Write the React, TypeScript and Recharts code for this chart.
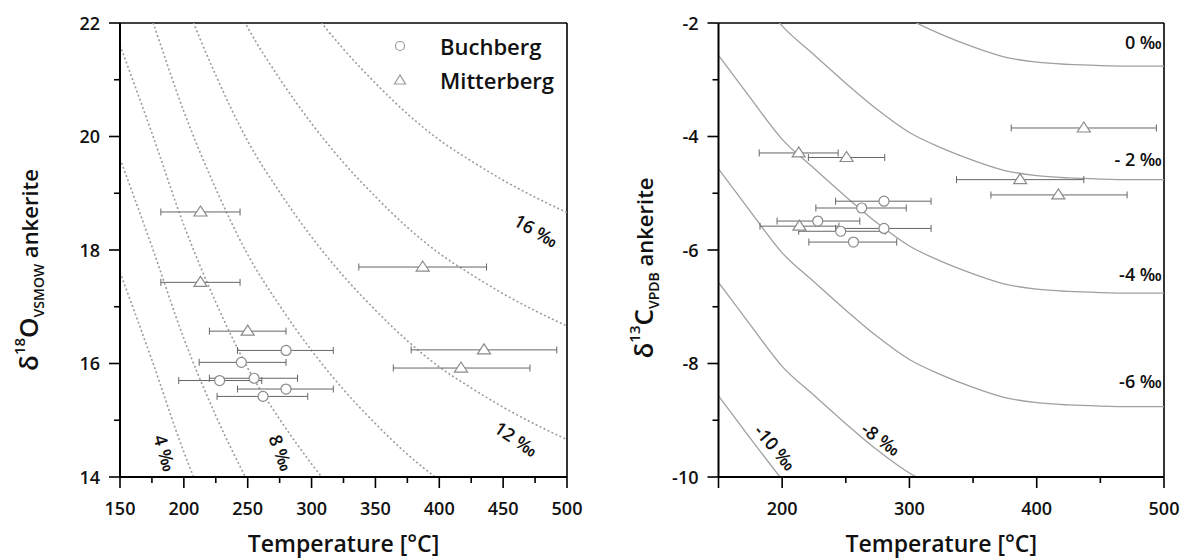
import {
  ComposedChart, Line, Scatter, ErrorBar, XAxis, YAxis,
  ReferenceLine, ReferenceDot, Legend
} from 'recharts'

const FONT = '"Open Sans", "Noto Sans", sans-serif'
const INK = '#111'

// temperature grid shared by every isopleth curve
const curveT = [150, 175, 200, 225, 250, 275, 300, 325, 350, 375, 400, 425, 450, 475, 500]

// δ18O ankerite isopleths, one per fluid δ18O (‰ VSMOW)
const o4 = [17.61, 16.06, 14.44, 13.08, null, null, null, null, null, null, null, null, null, null, null]
const o6 = [19.61, 18.06, 16.44, 15.08, 13.92, null, null, null, null, null, null, null, null, null, null]
const o8 = [21.61, 20.06, 18.44, 17.08, 15.92, 15.02, 14.23, 13.54, null, null, null, null, null, null, null]
const o10 = [23.61, 22.06, 20.44, 19.08, 17.92, 17.02, 16.23, 15.54, 14.94, 14.40, 13.94, null, null, null, null]
const o12 = [null, 24.06, 22.44, 21.08, 19.92, 19.02, 18.23, 17.54, 16.94, 16.40, 15.94, 15.57, 15.23, 14.93, 14.66]
const o14 = [null, null, null, 23.08, 21.92, 21.02, 20.23, 19.54, 18.94, 18.40, 17.94, 17.57, 17.23, 16.93, 16.66]
const o16 = [null, null, null, null, null, 23.02, 22.23, 21.54, 20.94, 20.40, 19.94, 19.57, 19.23, 18.93, 18.66]

// δ13C ankerite isopleths, one per fluid δ13C (‰ VPDB)
const c0 = [null, null, null, null, null, -1.53, -1.93, -2.20, -2.42, -2.60, -2.69, -2.73, -2.75, -2.76, -2.76]
const c2 = [null, -1.32, -2.05, -2.56, -3.06, -3.53, -3.93, -4.20, -4.42, -4.60, -4.69, -4.73, -4.75, -4.76, -4.76]
const c4 = [-2.57, -3.32, -4.05, -4.56, -5.06, -5.53, -5.93, -6.20, -6.42, -6.60, -6.69, -6.73, -6.75, -6.76, -6.76]
const c6 = [-4.57, -5.32, -6.05, -6.56, -7.06, -7.53, -7.93, -8.20, -8.42, -8.60, -8.69, -8.73, -8.75, -8.76, -8.76]
const c8 = [-6.57, -7.32, -8.05, -8.56, -9.06, -9.53, -9.93, -10.20, null, null, null, null, null, null, null]
const c10 = [-8.57, -9.32, -10.05, null, null, null, null, null, null, null, null, null, null, null, null]

// samples: temperature, error bar (minus / plus), isotope values
const seriesNames = ['Buchberg', 'Mitterberg']

const bTempO = [228, 245, 255, 262, 280, 280]
const bTempC = [228, 246, 256, 262.5, 280, 280]
const bErrLo = [32, 33, 35, 36, 38, 38]
const bErrHi = [33, 35, 34, 35, 37, 37]
const bO18 = [15.70, 16.02, 15.74, 15.42, 16.23, 15.55]
const bC13 = [-5.49, -5.67, -5.86, -5.26, -5.14, -5.62]

const mTempO = [213, 213, 250, 387, 417, 435]
const mTempC = [213, 213.6, 250.6, 387, 417, 437]
const mErrLo = [31, 31, 30, 50, 53, 57]
const mErrHi = [31, 31, 30, 50, 54, 57]
const mO18 = [18.67, 17.43, 16.57, 17.70, 15.92, 16.24]
const mC13 = [-4.29, -5.58, -4.37, -4.76, -5.03, -3.85]

// curve labels: text, temperature, isotope value, rotation
const oLabels: [string, number, number, number][] = [
  ['4 ‰', 184.6, 14.42, 74],
  ['8 ‰', 275.5, 14.42, 70],
  ['12 ‰', 459.9, 14.66, 34],
  ['16 ‰', 475.5, 18.33, 30],
]
const cLabels: [string, number, number, number][] = [
  ['0 ‰', 498.4, -2.36, 0],
  ['- 2 ‰', 498.4, -4.41, 0],
  ['-4 ‰', 498.4, -6.44, 0],
  ['-6 ‰', 498.4, -8.32, 0],
  ['-8 ‰', 277.4, -9.34, 36],
  ['-10 ‰', 194.2, -9.49, 50],
]

const toPts = (vals: (number | null)[]) =>
  curveT.map((x, i) => ({ x, y: vals[i] })).filter(p => p.y !== null)

const toSamples = (t: number[], v: number[], lo: number[], hi: number[]) =>
  t.map((x, i) => ({ x, y: v[i], e: [lo[i], hi[i]] }))

const XTick = ({ x, y, payload, major, labels }: any) => {
  const v = payload.value
  const big = major.includes(v)
  return (
    <g>
      <line x1={x} x2={x} y1={y} y2={y + (big ? 11 : 6)} stroke="#000" strokeWidth={1.6} />
      {labels.includes(v) && (
        <text x={x} y={y + 38} textAnchor="middle" fontSize={18} fontFamily={FONT} fontWeight={600} fill={INK}>{v}</text>
      )}
    </g>
  )
}

const YTick = ({ x, y, payload, major }: any) => {
  const v = payload.value
  const big = major.includes(v)
  return (
    <g>
      <line x1={x} x2={x - (big ? 11 : 6)} y1={y} y2={y} stroke="#000" strokeWidth={1.6} />
      {big && (
        <text x={x - 20} y={y + 6.5} textAnchor="end" fontSize={18} fontFamily={FONT} fontWeight={600} fill={INK}>{v}</text>
      )}
    </g>
  )
}

const XTitle = ({ viewBox }: any) => (
  <text x={viewBox.x + viewBox.width / 2} y={viewBox.y + 75} textAnchor="middle"
    fontSize={23} fontFamily={FONT} fontWeight={600} fill={INK}>Temperature [°C]</text>
)

const YTitle = ({ viewBox, bx, dy, sup, main, sub }: any) => {
  const x = viewBox.x + bx
  const y = viewBox.y + viewBox.height / 2 + dy
  return (
    <text x={x} y={y} transform={`rotate(-90 ${x} ${y})`} textAnchor="middle"
      fontFamily={FONT} fontWeight={600} fill={INK}>
      <tspan fontSize={26}>δ</tspan>
      <tspan fontSize={15} dy={-13}>{sup}</tspan>
      <tspan fontSize={26} dy={13}>{main}</tspan>
      <tspan fontSize={14} dy={6}>{sub}</tspan>
      <tspan fontSize={22} dy={-6}> ankerite</tspan>
    </text>
  )
}

const CurveLabel = ({ viewBox, text, rot }: any) => {
  const x = viewBox.x + (viewBox.width || 0) / 2
  const y = viewBox.y + (viewBox.height || 0) / 2
  return (
    <text x={x} y={y} dy={6} textAnchor={rot === 0 ? 'end' : 'middle'}
      transform={`rotate(${rot} ${x} ${y})`}
      fontSize={18} fontFamily={FONT} fontWeight={600} fill={INK}>{text}</text>
  )
}

const Circ = (p: any) => <circle cx={p.cx} cy={p.cy} r={5} fill="#fff" stroke="#8a8a8a" strokeWidth={1.2} />
const Tri = (p: any) => (
  <polygon points={`${p.cx},${p.cy - 6} ${p.cx - 6.5},${p.cy + 4} ${p.cx + 6.5},${p.cy + 4}`}
    fill="#fff" stroke="#8a8a8a" strokeWidth={1.2} />
)

const SeriesLegend = () => (
  <div style={{ fontFamily: FONT, fontWeight: 600, fontSize: 22, color: INK }}>
    {seriesNames.map((n, i) => (
      <div key={n} style={{ display: 'flex', alignItems: 'center', height: 34 }}>
        <svg width={14} height={14} style={{ marginRight: 33 }}>
          {i === 0
            ? <circle cx={7} cy={7} r={4.5} fill="#fff" stroke="#999" strokeWidth={1.2} />
            : <polygon points="7,2 1.5,11 12.5,11" fill="#fff" stroke="#999" strokeWidth={1.2} />}
        </svg>
        <span>{n}</span>
      </div>
    ))}
  </div>
)

function OxygenPanel() {
  const curves = [o4, o6, o8, o10, o12, o14, o16]
  return (
    <ComposedChart width={590} height={550} margin={{ top: 15, right: 31, bottom: 21, left: 0 }}>
      <XAxis type="number" dataKey="x" domain={[150, 500]} allowDataOverflow
        ticks={[150, 175, 200, 225, 250, 275, 300, 325, 350, 375, 400, 425, 450, 475, 500]}
        interval={0} tickSize={0} tickMargin={0} tickLine={false} height={60}
        axisLine={{ stroke: '#000', strokeWidth: 2 }}
        tick={<XTick major={[150, 200, 250, 300, 350, 400, 450, 500]} labels={[150, 200, 250, 300, 350, 400, 450, 500]} />}
        label={<XTitle />} />
      <YAxis type="number" dataKey="y" domain={[14, 22]} allowDataOverflow width={112}
        ticks={[14, 15, 16, 17, 18, 19, 20, 21, 22]} interval={0} tickSize={0} tickMargin={0} tickLine={false}
        axisLine={{ stroke: '#000', strokeWidth: 2 }}
        tick={<YTick major={[14, 16, 18, 20, 22]} />}
        label={<YTitle bx={30} dy={20} sup="18" main="O" sub="VSMOW" />} />
      <ReferenceLine y={22} stroke="#000" strokeWidth={1.6} />
      <ReferenceLine x={500} stroke="#000" strokeWidth={1.6} />
      {curves.map((c, i) => (
        <Line key={i} data={toPts(c)} dataKey="y" type="monotone" stroke="#9c9c9c" strokeWidth={1.6}
          strokeDasharray="2 2.4" dot={false} activeDot={false} isAnimationActive={false} />
      ))}
      <Scatter name={seriesNames[0]} data={toSamples(bTempO, bO18, bErrLo, bErrHi)} dataKey="y" shape={Circ} isAnimationActive={false}>
        <ErrorBar dataKey="e" direction="x" width={3.5} stroke="#666" strokeWidth={1} />
      </Scatter>
      <Scatter name={seriesNames[1]} data={toSamples(mTempO, mO18, mErrLo, mErrHi)} dataKey="y" shape={Tri} isAnimationActive={false}>
        <ErrorBar dataKey="e" direction="x" width={3.5} stroke="#666" strokeWidth={1} />
      </Scatter>
      {oLabels.map(([t, x, y, a]) => (
        <ReferenceDot key={t} x={x} y={y} r={0} fill="none" stroke="none" label={<CurveLabel text={t} rot={a} />} />
      ))}
      <Legend layout="vertical" align="center" verticalAlign="middle"
        wrapperStyle={{ top: 21, left: 385, width: 200 }} content={<SeriesLegend />} />
    </ComposedChart>
  )
}

function CarbonPanel() {
  const curves = [c0, c2, c4, c6, c8, c10]
  return (
    <ComposedChart width={590} height={550} margin={{ top: 15, right: 24, bottom: 21, left: 0 }}>
      <XAxis type="number" dataKey="x" domain={[150, 500]} allowDataOverflow
        ticks={[150, 200, 250, 300, 350, 400, 450, 500]}
        interval={0} tickSize={0} tickMargin={0} tickLine={false} height={60}
        axisLine={{ stroke: '#000', strokeWidth: 2 }}
        tick={<XTick major={[150, 200, 300, 400, 500]} labels={[200, 300, 400, 500]} />}
        label={<XTitle />} />
      <YAxis type="number" dataKey="y" domain={[-10, -2]} allowDataOverflow width={120.5}
        ticks={[-10, -9, -8, -7, -6, -5, -4, -3, -2]} interval={0} tickSize={0} tickMargin={0} tickLine={false}
        axisLine={{ stroke: '#000', strokeWidth: 2 }}
        tick={<YTick major={[-10, -8, -6, -4, -2]} />}
        label={<YTitle bx={55} dy={18} sup="13" main="C" sub="VPDB" />} />
      <ReferenceLine y={-2} stroke="#000" strokeWidth={1.6} />
      <ReferenceLine x={500} stroke="#000" strokeWidth={1.6} />
      {curves.map((c, i) => (
        <Line key={i} data={toPts(c)} dataKey="y" type="monotone" stroke="#a0a0a0" strokeWidth={1.3}
          dot={false} activeDot={false} isAnimationActive={false} />
      ))}
      <Scatter name={seriesNames[0]} data={toSamples(bTempC, bC13, bErrLo, bErrHi)} dataKey="y" shape={Circ} isAnimationActive={false}>
        <ErrorBar dataKey="e" direction="x" width={3.5} stroke="#666" strokeWidth={1} />
      </Scatter>
      <Scatter name={seriesNames[1]} data={toSamples(mTempC, mC13, mErrLo, mErrHi)} dataKey="y" shape={Tri} isAnimationActive={false}>
        <ErrorBar dataKey="e" direction="x" width={3.5} stroke="#666" strokeWidth={1} />
      </Scatter>
      {cLabels.map(([t, x, y, a]) => (
        <ReferenceDot key={t} x={x} y={y} r={0} fill="none" stroke="none" label={<CurveLabel text={t} rot={a} />} />
      ))}
    </ComposedChart>
  )
}

export default function App() {
  return (
    <div style={{ display: 'flex', width: 1180, background: '#fff' }}>
      <OxygenPanel />
      <CarbonPanel />
    </div>
  )
}
